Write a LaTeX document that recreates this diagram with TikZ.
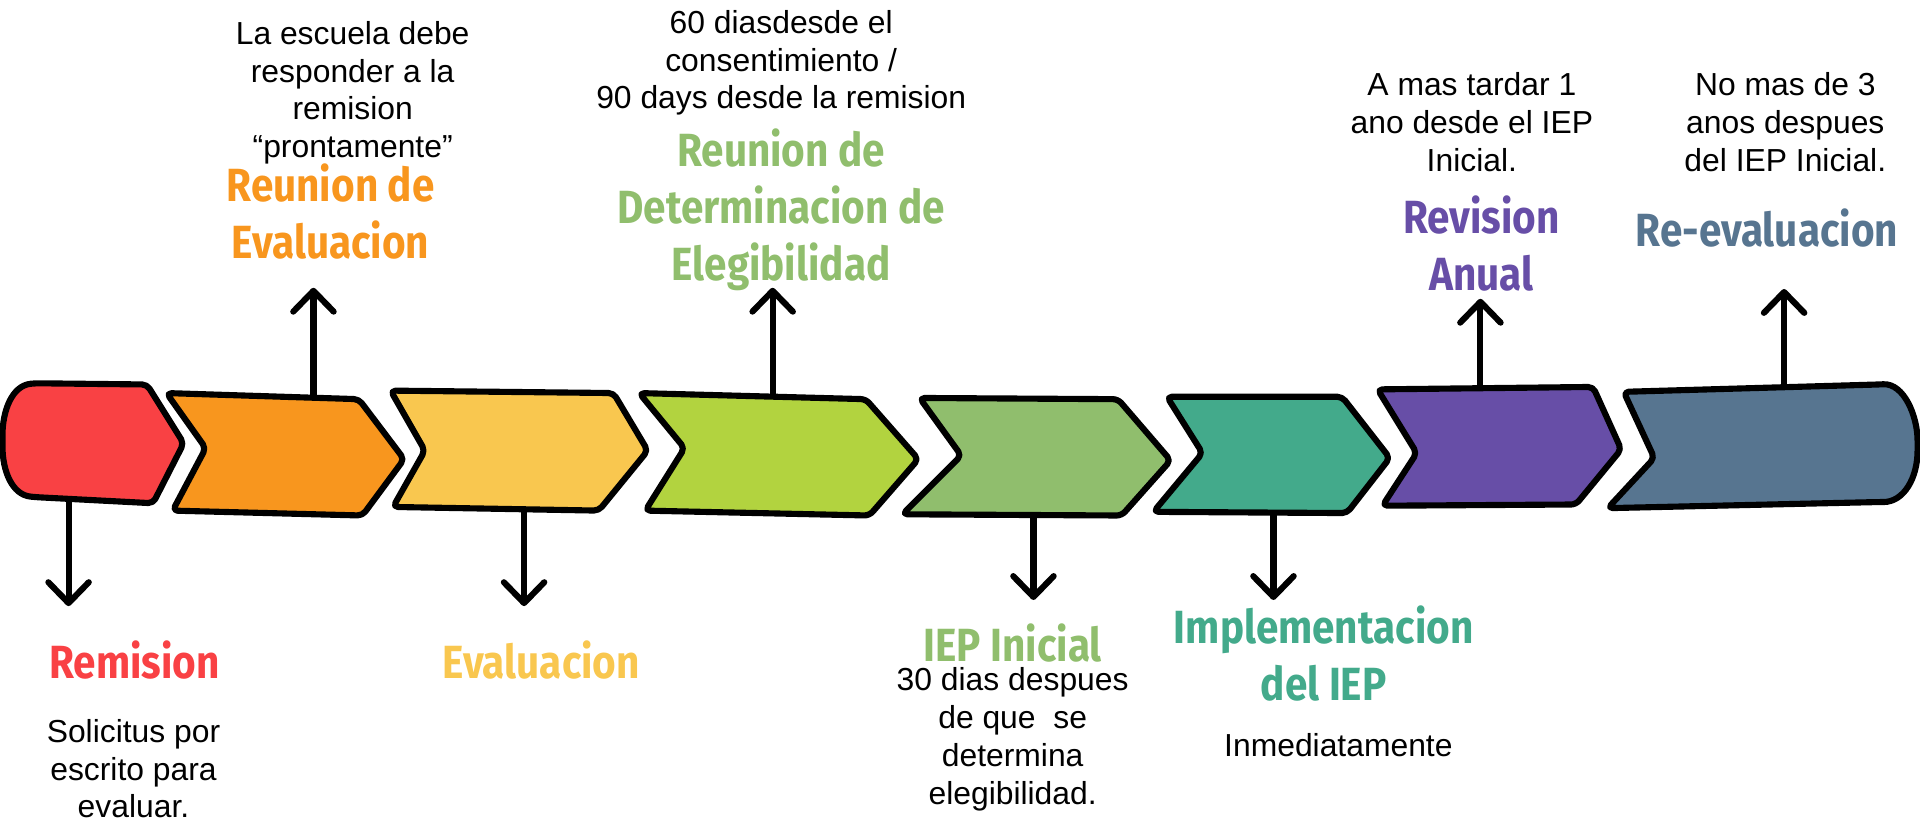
\documentclass[tikz,border=0pt]{standalone}
\usepackage{fontspec}
\setmainfont{Liberation Sans}
\newfontfamily\headfont[FakeStretch=0.87]{Fira Sans}
\usetikzlibrary{arrows.meta}

\definecolor{cRem}{HTML}{F94144}
\definecolor{cEvr}{HTML}{F8961E}
\definecolor{cEva}{HTML}{F9C74F}
\definecolor{cDet}{HTML}{B2D33F}
\definecolor{cIep}{HTML}{90BE6D}
\definecolor{cImp}{HTML}{43AA8B}
\definecolor{cRev}{HTML}{674EA7}
\definecolor{cRee}{HTML}{577590}

\begin{document}
\begin{tikzpicture}[x=1pt, y=-1pt,
    stage/.style={draw=black, line width=5pt, line join=round, rounded corners=4pt},
    link/.style={line width=5pt, -{Straight Barb[length=17pt, width=33pt, round]}},
    head/.style={font=\headfont\bfseries\fontsize{38}{46.5}\selectfont, align=center, anchor=base, inner sep=0pt},
    note/.style={font=\fontsize{26}{31}\selectfont, align=center, anchor=base, inner sep=0pt}]
  \useasboundingbox (0,0) rectangle (1568,668);

  % the eight stages
  \filldraw[stage, fill=cRem] (75,313.5) -- (120,314) -- (150,362) -- (125,411) -- (29,406)
    .. controls (10,404) and (2,385) .. (2,360) .. controls (2,335) and (10,315) .. (29,313) -- cycle;
  \filldraw[stage, fill=cEvr] (136,321) -- (293,326) -- (330,375) -- (296,421) -- (141,417) -- (168,366) -- cycle;
  \filldraw[stage, fill=cEva] (319,319) -- (501,321) -- (529,368) -- (489,417) -- (321,414) -- (347,368) -- cycle;
  \filldraw[stage, fill=cDet] (522,321) -- (707,326) -- (750,375) -- (710,421) -- (527,417) -- (559,366) -- cycle;
  \filldraw[stage, fill=cIep] (751,325) -- (913,326) -- (956,376) -- (916,421) -- (737,420) -- (785,372) -- cycle;
  \filldraw[stage, fill=cImp] (953,324) -- (1096,324) -- (1135,374) -- (1100,419) -- (942,418) -- (982,370) -- cycle;
  \filldraw[stage, fill=cRev] (1125,318) -- (1301,316) -- (1324,367) -- (1287,412) -- (1129,413) -- (1157,370) -- cycle;
  \filldraw[stage, fill=cRee] (1326,320) -- (1534,314)
    .. controls (1555,313) and (1566,340) .. (1566,364) .. controls (1566,390) and (1555,410) .. (1534,410)
    -- (1313,415) -- (1351,374) -- cycle;

  % where the arrows leave the stages
  \coordinate (rem-out) at (56,408);   \coordinate (rem-end) at (56,495);
  \coordinate (evr-out) at (256,324);  \coordinate (evr-end) at (256,235);
  \coordinate (eva-out) at (428,415);  \coordinate (eva-end) at (428,495);
  \coordinate (det-out) at (631,323);  \coordinate (det-end) at (631,235);
  \coordinate (iep-out) at (844,421);  \coordinate (iep-end) at (844,490);
  \coordinate (imp-out) at (1040,419); \coordinate (imp-end) at (1040,490);
  \coordinate (rev-out) at (1209,317); \coordinate (rev-end) at (1209,244);
  \coordinate (ree-out) at (1457,317); \coordinate (ree-end) at (1457,236);
  \foreach \s in {rem,evr,eva,det,iep,imp,rev,ree}
    \draw[link] (\s-out) -- (\s-end);

  % labels (placed by the baseline of their last line)
  \node[head, text=cRem] (remHead) at (110,554) {Remision};
  \node[note] (remNote) at (109,668) {Solicitus por\\escrito para\\evaluar.};
  \node[note] (evrNote) at (288,129) {La escuela debe\\responder a la\\remision\\“prontamente”};
  \node[head, text=cEvr] (evrHead) at (270,211) {Reunion de\\Evaluacion};
  \node[head, text=cEva] (evaHead) at (442,554) {Evaluacion};
  \node[note] (detNote) at (638,89) {60 diasdesde el\\consentimiento /\\90 days desde la remision};
  \node[head, text=cIep] (detHead) at (638,229) {Reunion de\\Determinacion de\\Elegibilidad};
  \node[head, text=cIep] (iepHead) at (827,540) {IEP Inicial};
  \node[note] (iepNote) at (827,657) {30 dias despues\\de que\ \ se\\determina\\elegibilidad.};
  \node[head, text=cImp] (impHead) at (1081,572) {Implementacion\\del IEP};
  \node[note] (impNote) at (1093,618) {Inmediatamente};
  \node[note] (revNote) at (1202,140) {A mas tardar 1\\ano desde el IEP\\Inicial.};
  \node[head, text=cRev] (revHead) at (1210,237) {Revision\\Anual};
  \node[note] (reeNote) at (1458,140) {No mas de 3\\anos despues\\del IEP Inicial.};
  \node[head, text=cRee] (reeHead) at (1443,201) {Re-evaluacion};
\end{tikzpicture}
\end{document}
